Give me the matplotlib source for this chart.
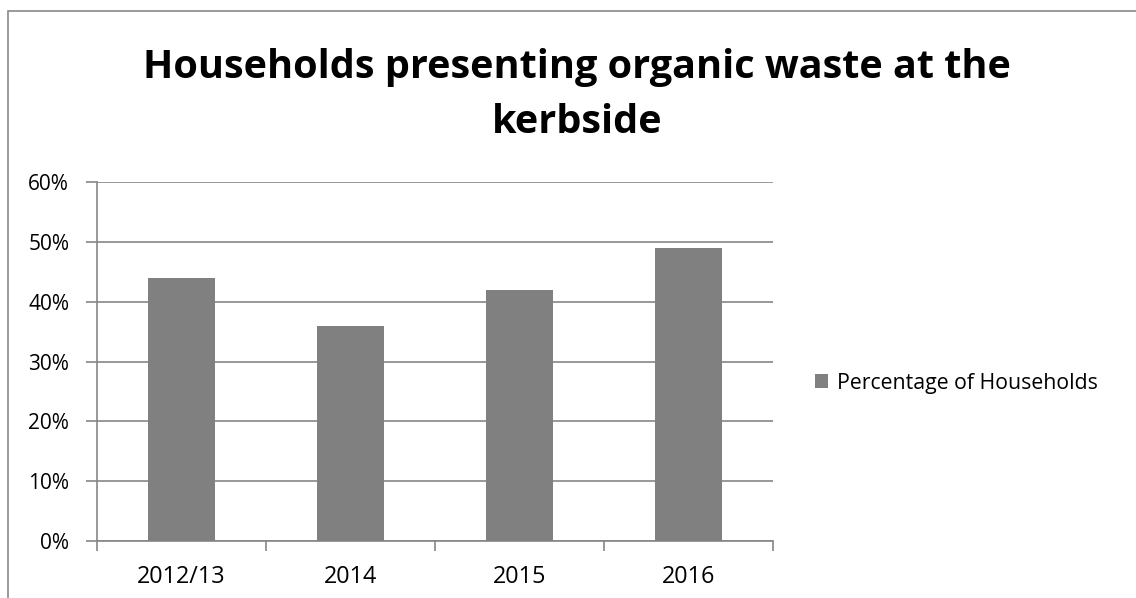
import matplotlib.pyplot as plt
from matplotlib.patches import Rectangle
from matplotlib.ticker import FuncFormatter

# data
years = ['2012/13', '2014', '2015', '2016']
pct_households = [0.44, 0.36, 0.42, 0.49]

plt.rcParams['font.family'] = ['Open Sans', 'DejaVu Sans']

W, H = 1136, 598
fig = plt.figure(figsize=(W / 100, H / 100), dpi=100)

# outer chart border (cut off at right and bottom in the reference)
fig.patches.append(Rectangle((8 / W, -0.1), 1.2, 1 - 11 / H + 0.1, transform=fig.transFigure,
                             fill=False, edgecolor='#898989', linewidth=1.2))

ax = fig.add_axes([97 / W, (H - 541) / H, 676 / W, 359 / H])
x = list(range(len(years)))
bars = ax.bar(x, pct_households, width=0.4, color='#808080', label='Percentage of Households', zorder=3)

ax.set_ylim(0, 0.6)
ax.set_xlim(-0.5, len(years) - 0.5)
ax.set_yticks([i / 10 for i in range(7)])
ax.yaxis.set_major_formatter(FuncFormatter(lambda v, p: f'{v * 100:.0f}%'))
ax.set_xticks(x, years)
ax.set_xticks([i - 0.5 for i in range(len(years) + 1)], minor=True)
ax.tick_params(axis='x', which='major', length=0, pad=17, labelsize=16.8)
ax.tick_params(axis='x', which='minor', length=7, color='#868686', width=1.2)
ax.tick_params(axis='y', length=8, color='#868686', width=1.2, labelsize=15, pad=12)
ax.grid(axis='y', color='#868686', linewidth=1.2, zorder=0)
for s in ['top', 'right']:
    ax.spines[s].set_visible(False)
for s in ['left', 'bottom']:
    ax.spines[s].set_color('#868686')
    ax.spines[s].set_linewidth(1.2)

fig.text(577 / W, 1 - 95 / H, 'Households presenting organic waste at the\nkerbside',
         ha='center', va='center', fontsize=28.5, fontweight='bold', linespacing=1.52)

fig.legend(handles=[bars], loc='center left', bbox_to_anchor=(796 / W, 1 - 383 / H),
           frameon=False, fontsize=15.3, handlelength=0.6, handleheight=0.6, handletextpad=0.45)

fig.savefig('out.png', dpi=100, facecolor='white')
